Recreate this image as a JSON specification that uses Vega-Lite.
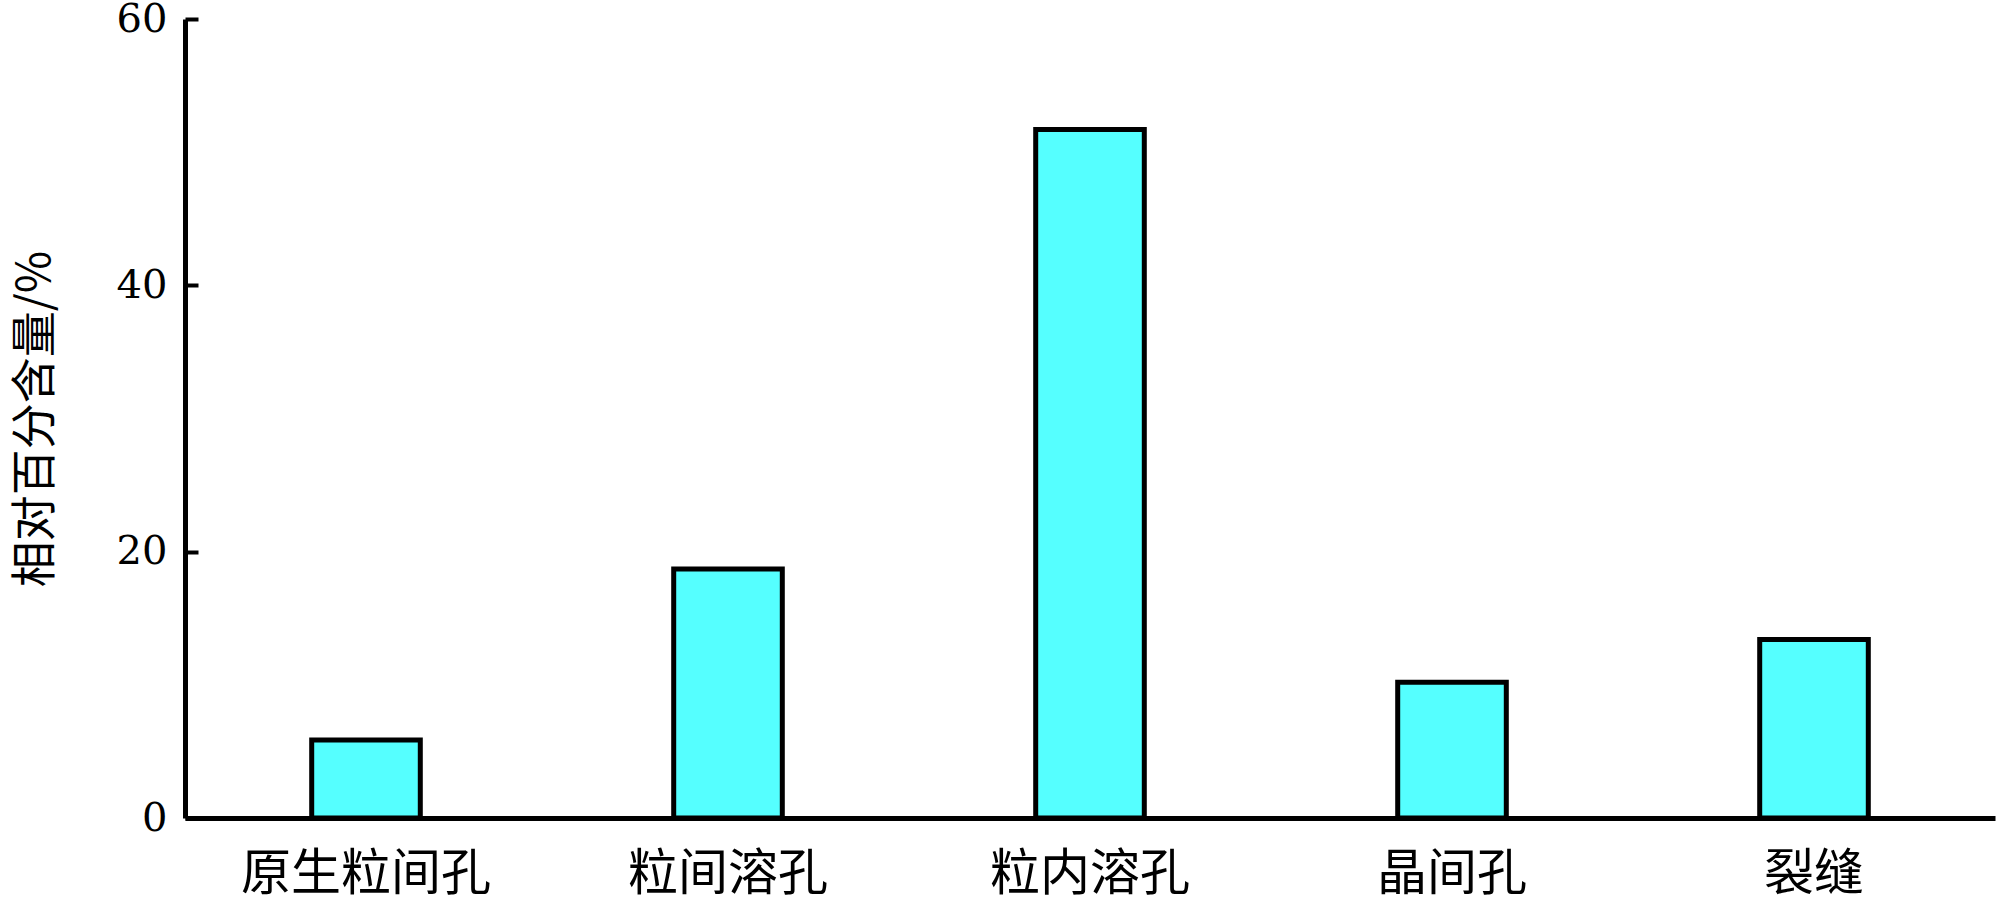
{
  "$schema": "https://vega.github.io/schema/vega-lite/v6.json",
  "autosize": "none",
  "width": 1810,
  "height": 799,
  "padding": {"left": 185, "top": 19, "right": 6, "bottom": 89},
  "background": "white",
  "config": {"view": {"stroke": null}},
  "data": {"values": [
    {"type": "原生粒间孔", "value": 5.85},
    {"type": "粒间溶孔", "value": 18.7},
    {"type": "粒内溶孔", "value": 51.7},
    {"type": "晶间孔", "value": 10.2},
    {"type": "裂缝", "value": 13.4}
  ]},
  "mark": {"type": "bar", "fill": "#55FFFF", "stroke": "black", "strokeWidth": 5},
  "encoding": {
    "x": {
      "field": "type", "type": "nominal", "sort": null,
      "scale": {"paddingInner": 0.7, "paddingOuter": 0.35},
      "axis": {
        "title": null, "labelAngle": 0, "domainColor": "black", "domainWidth": 5,
        "ticks": false, "labelPadding": 31, "labelFont": "Noto Sans CJK SC",
        "labelFontSize": 50, "labelColor": "black", "labelBaseline": "top", "labelLimit": 0
      }
    },
    "y": {
      "field": "value", "type": "quantitative",
      "scale": {"domain": [0, 60], "nice": false},
      "axis": {
        "title": "相对百分含量/%", "values": [0, 20, 40, 60], "grid": false,
        "domainColor": "black", "domainWidth": 5, "tickColor": "black", "tickWidth": 4,
        "tickSize": -13, "labelPadding": 31, "labelFont": "DejaVu Serif", "labelFontSize": 40,
        "labelColor": "black", "titleFont": "Noto Sans CJK SC", "titleFontSize": 46,
        "titleFontWeight": "normal", "titleColor": "black", "titleX": -150, "titleBaseline": "middle"
      }
    }
  }
}
